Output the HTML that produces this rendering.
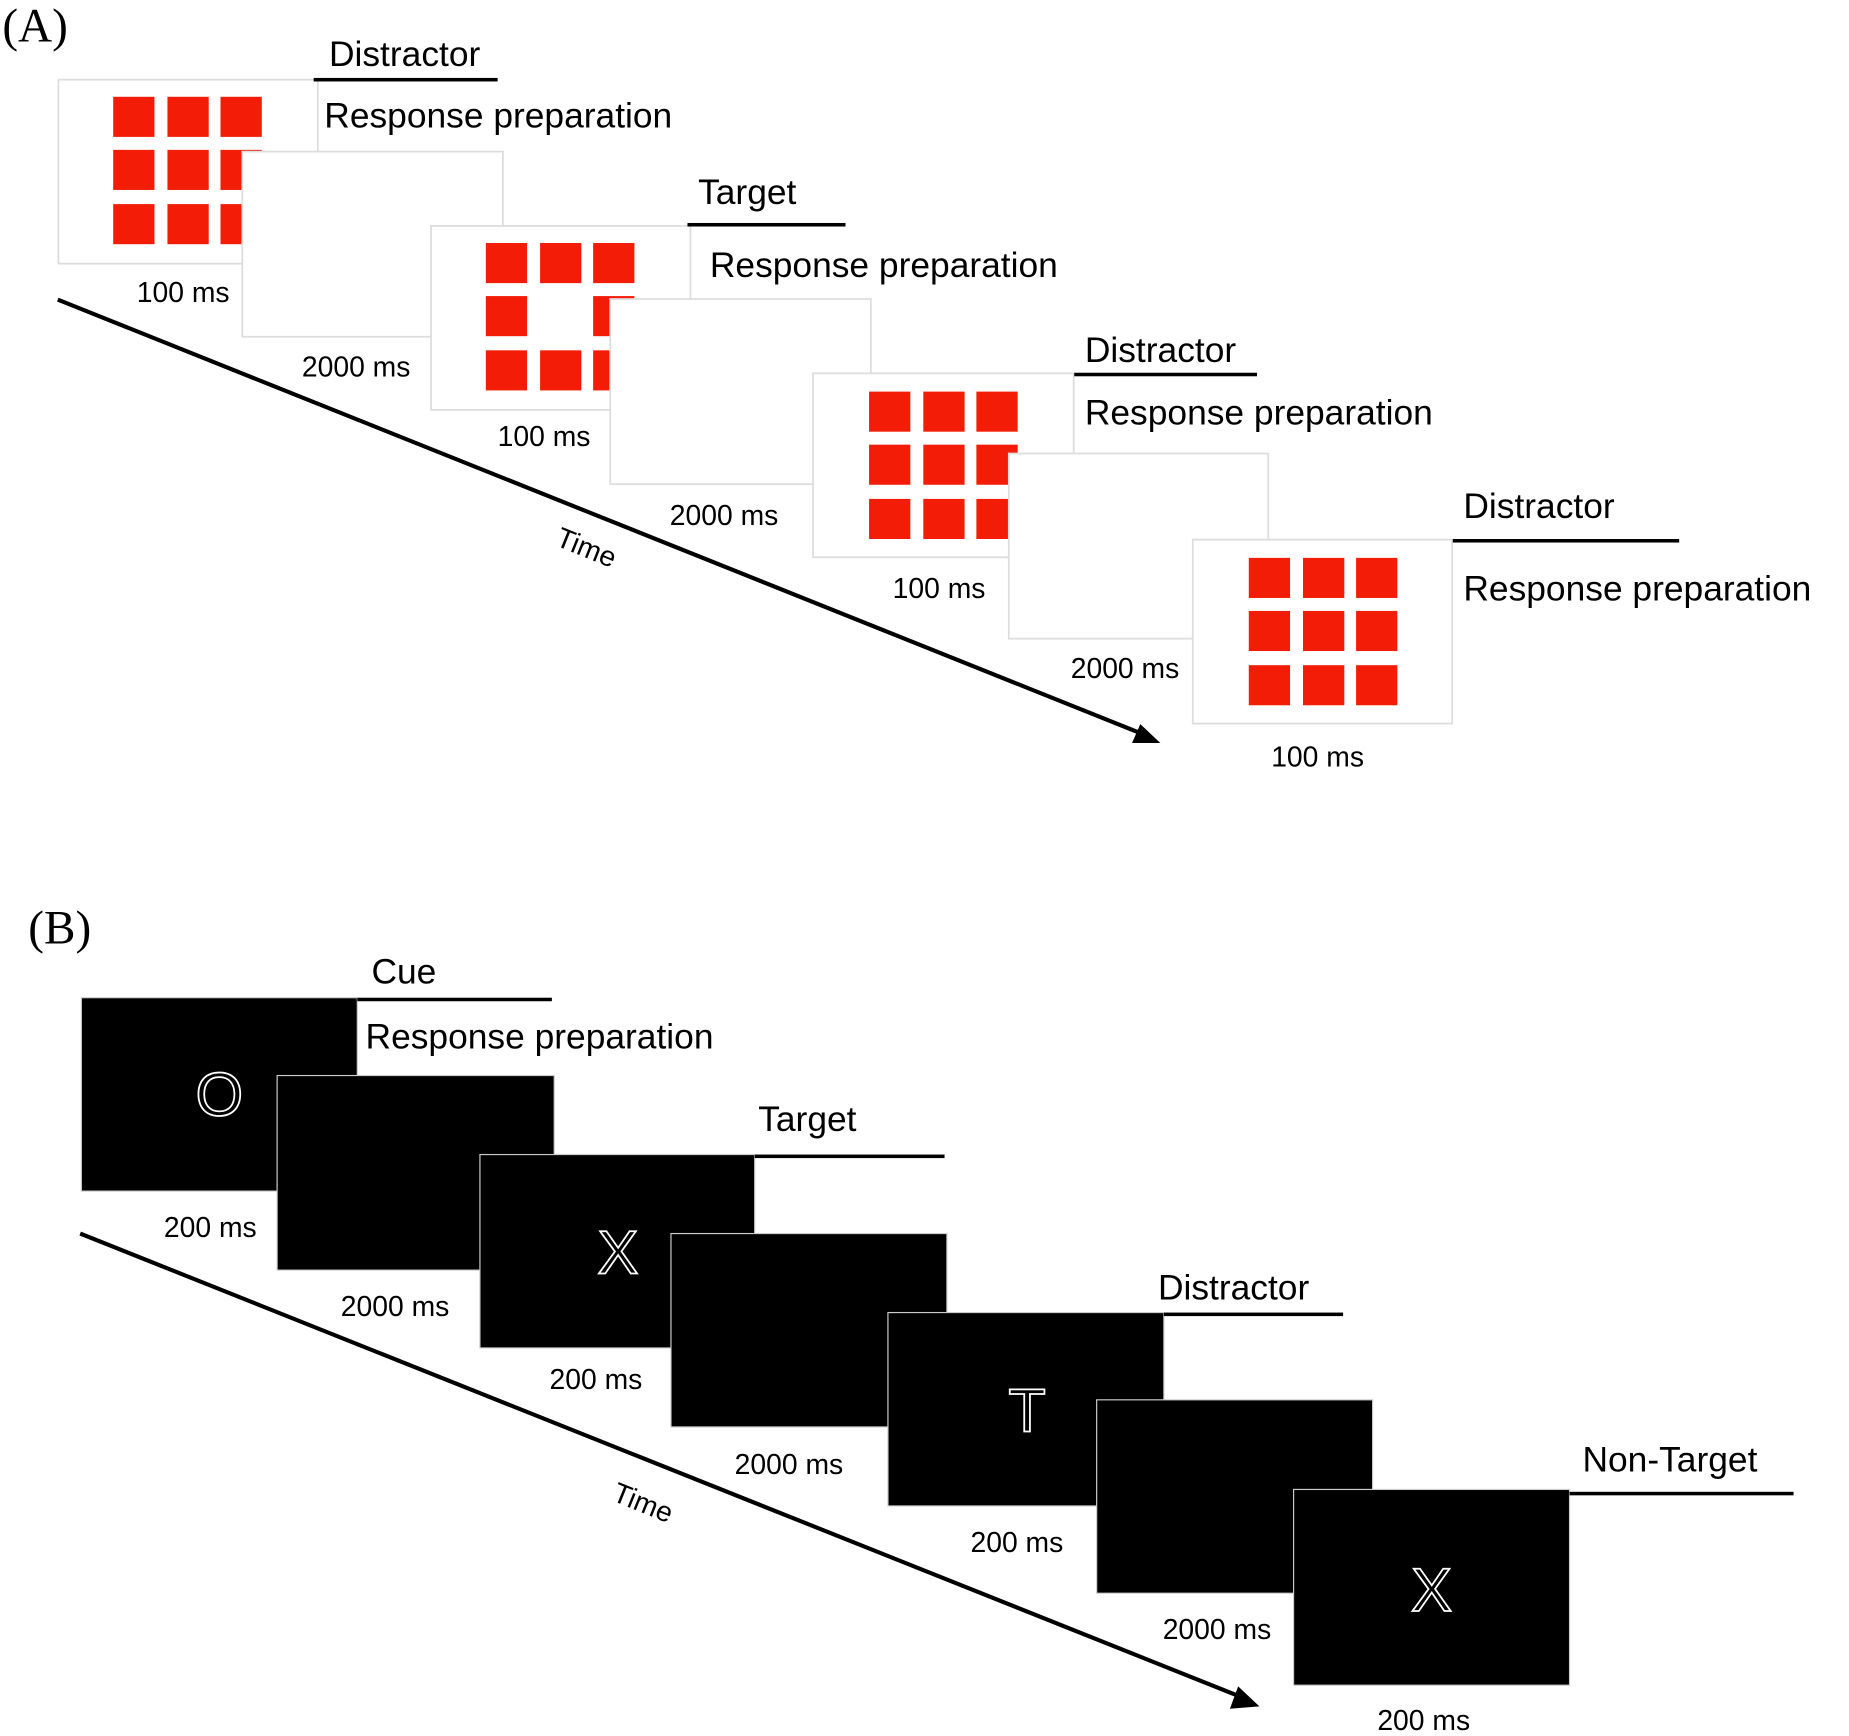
<!DOCTYPE html>
<html><head><meta charset="utf-8"><style>
html,body{margin:0;padding:0;background:#fff;}
svg{display:block;}
text{font-family:"Liberation Sans",Arial,sans-serif;fill:#000;}
</style></head><body>
<svg width="1849" height="1736" viewBox="0 0 1568 1472" xmlns="http://www.w3.org/2000/svg">
<defs>
<g id="g9">
<rect x="0" y="0" width="35" height="34" fill="#f21c07"/><rect x="46" y="0" width="35" height="34" fill="#f21c07"/><rect x="91" y="0" width="35" height="34" fill="#f21c07"/>
<rect x="0" y="45" width="35" height="34" fill="#f21c07"/><rect x="46" y="45" width="35" height="34" fill="#f21c07"/><rect x="91" y="45" width="35" height="34" fill="#f21c07"/>
<rect x="0" y="91" width="35" height="34" fill="#f21c07"/><rect x="46" y="91" width="35" height="34" fill="#f21c07"/><rect x="91" y="91" width="35" height="34" fill="#f21c07"/>
</g>
</defs>
<text x="2" y="35" font-size="40" style="font-family:'Liberation Serif',serif">(A)</text>
<!-- Panel A -->
<line x1="49" y1="254" x2="968" y2="622" stroke="#000" stroke-width="3.5"/>
<polygon points="984,630 960,630 967,614" fill="#000"/>
<text x="470" y="462" font-size="24" transform="rotate(22 470 462)">Time</text>

<rect x="49.5" y="67.5" width="220" height="156" fill="#fff" stroke="#ddd" stroke-width="1.5"/>
<use href="#g9" x="96" y="82"/>
<rect x="205.5" y="128.5" width="221" height="157" fill="#fff" stroke="#ddd" stroke-width="1.5"/>
<rect x="365.5" y="191.5" width="220" height="156" fill="#fff" stroke="#ddd" stroke-width="1.5"/>
<use href="#g9" x="412" y="206"/>
<rect x="457" y="250" width="38" height="36" fill="#fff"/>
<rect x="517.5" y="253.5" width="221" height="157" fill="#fff" stroke="#ddd" stroke-width="1.5"/>
<rect x="689.5" y="316.5" width="221" height="156" fill="#fff" stroke="#ddd" stroke-width="1.5"/>
<use href="#g9" x="737" y="332"/>
<rect x="855.5" y="384.5" width="220" height="157" fill="#fff" stroke="#ddd" stroke-width="1.5"/>
<rect x="1011.5" y="457.5" width="220" height="156" fill="#fff" stroke="#ddd" stroke-width="1.5"/>
<use href="#g9" x="1059" y="473"/>

<text x="279" y="56" font-size="30">Distractor</text>
<rect x="266" y="66" width="156" height="3" fill="#000"/>
<text x="275" y="108" font-size="30">Response preparation</text>
<text x="116" y="256" font-size="24">100 ms</text>
<text x="256" y="319" font-size="24">2000 ms</text>
<text x="592" y="173" font-size="30">Target</text>
<rect x="583" y="189" width="134" height="3" fill="#000"/>
<text x="602" y="235" font-size="30">Response preparation</text>
<text x="422" y="378" font-size="24">100 ms</text>
<text x="568" y="445" font-size="24">2000 ms</text>
<text x="920" y="307" font-size="30">Distractor</text>
<rect x="911" y="316" width="155" height="3" fill="#000"/>
<text x="920" y="360" font-size="30">Response preparation</text>
<text x="757" y="507" font-size="24">100 ms</text>
<text x="908" y="575" font-size="24">2000 ms</text>
<text x="1241" y="439" font-size="30">Distractor</text>
<rect x="1232" y="457" width="192" height="3" fill="#000"/>
<text x="1241" y="509" font-size="30">Response preparation</text>
<text x="1078" y="650" font-size="24">100 ms</text>

<!-- Panel B -->
<text x="24" y="800" font-size="40" style="font-family:'Liberation Serif',serif">(B)</text>
<line x1="68" y1="1046" x2="1050" y2="1438" stroke="#000" stroke-width="3.5"/>
<polygon points="1068,1447 1043,1449 1050,1430" fill="#000"/>
<text x="518" y="1272" font-size="24" transform="rotate(22 518 1272)">Time</text>

<rect x="69" y="846" width="234" height="164" fill="#000" stroke="#ccc" stroke-width="1"/>
<text x="186" y="946" font-size="52" text-anchor="middle" style="fill:none;stroke:#fff;stroke-width:1.5">O</text>
<rect x="235" y="912" width="235" height="165" fill="#000" stroke="#ccc" stroke-width="1"/>
<rect x="407" y="979" width="233" height="164" fill="#000" stroke="#ccc" stroke-width="1"/>
<text x="524" y="1080" font-size="52" text-anchor="middle" style="fill:none;stroke:#fff;stroke-width:1.5">X</text>
<rect x="569" y="1046" width="234" height="164" fill="#000" stroke="#ccc" stroke-width="1"/>
<rect x="753" y="1113" width="234" height="164" fill="#000" stroke="#ccc" stroke-width="1"/>
<text x="871" y="1214" font-size="52" text-anchor="middle" style="fill:none;stroke:#fff;stroke-width:1.5">T</text>
<rect x="930" y="1187" width="234" height="164" fill="#000" stroke="#ccc" stroke-width="1"/>
<rect x="1097" y="1263" width="234" height="166" fill="#000" stroke="#ccc" stroke-width="1"/>
<text x="1214" y="1366" font-size="52" text-anchor="middle" style="fill:none;stroke:#fff;stroke-width:1.5">X</text>

<text x="315" y="834" font-size="30">Cue</text>
<rect x="303" y="846" width="165" height="3" fill="#000"/>
<text x="310" y="889" font-size="30">Response preparation</text>
<text x="643" y="959" font-size="30">Target</text>
<rect x="640" y="979" width="161" height="3" fill="#000"/>
<text x="982" y="1102" font-size="30">Distractor</text>
<rect x="987" y="1113" width="152" height="3" fill="#000"/>
<text x="1342" y="1248" font-size="30">Non-Target</text>
<rect x="1331" y="1265" width="190" height="3" fill="#000"/>

<text x="139" y="1049" font-size="24">200 ms</text>
<text x="289" y="1116" font-size="24">2000 ms</text>
<text x="466" y="1178" font-size="24">200 ms</text>
<text x="623" y="1250" font-size="24">2000 ms</text>
<text x="823" y="1316" font-size="24">200 ms</text>
<text x="986" y="1390" font-size="24">2000 ms</text>
<text x="1168" y="1467" font-size="24">200 ms</text>
</svg>
</body></html>
